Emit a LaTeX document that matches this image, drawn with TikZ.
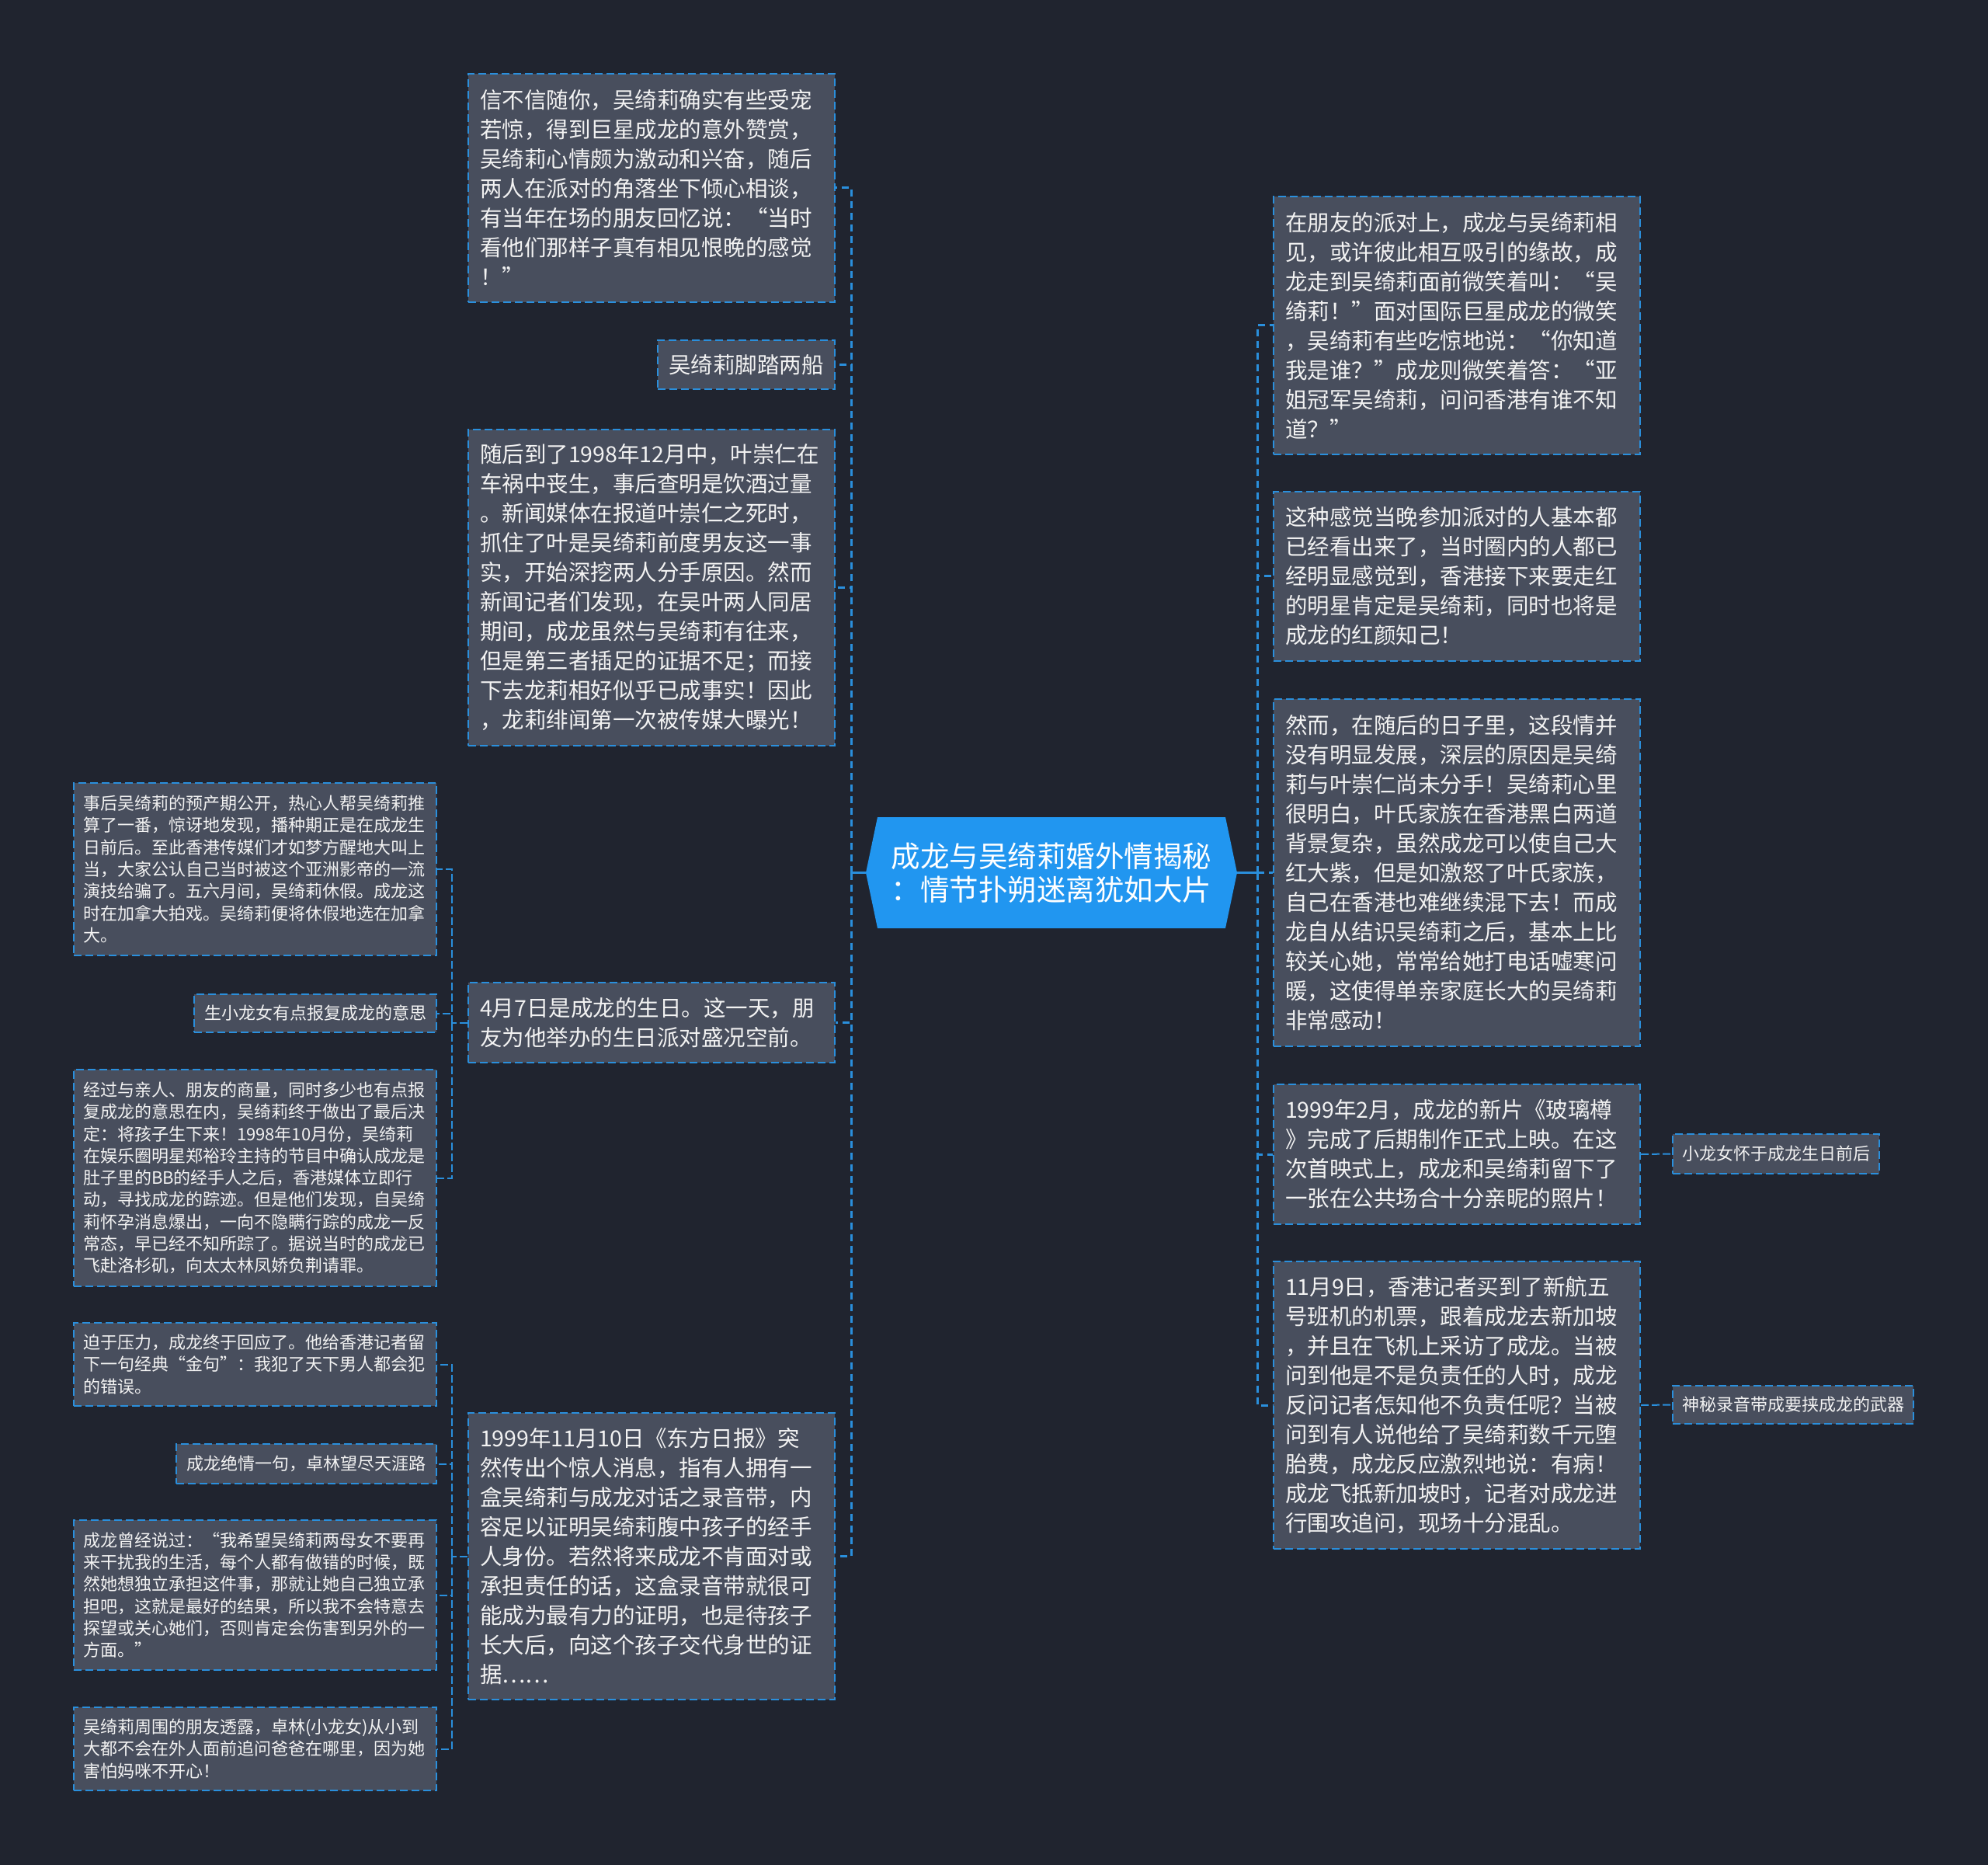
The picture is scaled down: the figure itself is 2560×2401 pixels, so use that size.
\documentclass[tikz,border=0pt]{standalone}
\usepackage{fontspec}
\setmainfont{Noto Sans CJK SC}
\definecolor{bgc}{HTML}{20242F}
\definecolor{nodefill}{HTML}{484E5D}
\definecolor{bord}{HTML}{2A8FDC}
\definecolor{rootfill}{HTML}{2196F0}
\definecolor{txt}{HTML}{F2F2F2}
\begin{document}
\begin{tikzpicture}[x=0.5pt,y=-0.5pt,
 box/.style={draw=bord, fill=nodefill, line width=1pt, dash pattern=on 5pt off 2.5pt, text=txt, inner ysep=0pt},
 big/.style={box, font=\fontsize{14.25pt}{19pt}\selectfont, align=left, text width=221pt, inner xsep=7.5pt},
 bigone/.style={box, font=\fontsize{14.25pt}{19pt}\selectfont, inner xsep=0pt},
 small/.style={box, font=\fontsize{11pt}{14.15pt}\selectfont, align=left, text width=221.5pt, inner xsep=6pt},
 smallone/.style={box, font=\fontsize{11pt}{14.15pt}\selectfont, inner xsep=0pt},
 trunk/.style={draw=bord, line width=1.5pt, dash pattern=on 4.5pt off 3pt},
 sub/.style={draw=bord, line width=1pt, dash pattern=on 5pt off 2pt},
 stub/.style={draw=bord, line width=1.5pt},
 rootnode/.style={text=white, font=\fontsize{18.75pt}{21.5pt}\selectfont, align=center, inner sep=0pt}
]
\useasboundingbox (0,0) rectangle (2560,2401);
\fill[bgc] (0,0) rectangle (2560,2401);

% root
\fill[rootfill] (1130,1052) -- (1115,1123.5) -- (1130,1195) -- (1578,1195) -- (1593,1123.5) -- (1578,1052) -- cycle;
\node[rootnode, minimum width=239pt, minimum height=71.5pt] (root) at (1354,1123.5) {成龙与吴绮莉婚外情揭秘\\：情节扑朔迷离犹如大片};

% left level 1
\node[big, minimum height=147pt] (L1) at (839,242) {信不信随你，吴绮莉确实有些受宠\\若惊，得到巨星成龙的意外赞赏，\\吴绮莉心情颇为激动和兴奋，随后\\两人在派对的角落坐下倾心相谈，\\有当年在场的朋友回忆说：“当时\\看他们那样子真有相见恨晚的感觉\\！”};
\node[bigone, minimum width=114pt, minimum height=31.5pt] (L2) at (961,469.5) {吴绮莉脚踏两船};
\node[big, minimum height=203.5pt] (L3) at (839,756.5) {随后到了1998年12月中，叶崇仁在\\车祸中丧生，事后查明是饮酒过量\\。新闻媒体在报道叶崇仁之死时，\\抓住了叶是吴绮莉前度男友这一事\\实，开始深挖两人分手原因。然而\\新闻记者们发现，在吴叶两人同居\\期间，成龙虽然与吴绮莉有往来，\\但是第三者插足的证据不足；而接\\下去龙莉相好似乎已成事实！因此\\，龙莉绯闻第一次被传媒大曝光！};
\node[big, minimum height=51.5pt] (L4) at (839,1316.5) {4月7日是成龙的生日。这一天，朋\\友为他举办的生日派对盛况空前。};
\node[big, minimum height=184.5pt] (L5) at (839,2003.5) {1999年11月10日《东方日报》突\\然传出个惊人消息，指有人拥有一\\盒吴绮莉与成龙对话之录音带，内\\容足以证明吴绮莉腹中孩子的经手\\人身份。若然将来成龙不肯面对或\\承担责任的话，这盒录音带就很可\\能成为最有力的证明，也是待孩子\\长大后，向这个孩子交代身世的证\\据……};

% right level 1
\node[big, minimum height=166pt] (R1) at (1876,419) {在朋友的派对上，成龙与吴绮莉相\\见，或许彼此相互吸引的缘故，成\\龙走到吴绮莉面前微笑着叫：“吴\\绮莉！”面对国际巨星成龙的微笑\\，吴绮莉有些吃惊地说：“你知道\\我是谁？”成龙则微笑着答：“亚\\姐冠军吴绮莉，问问香港有谁不知\\道？”};
\node[big, minimum height=109pt] (R2) at (1876,742) {这种感觉当晚参加派对的人基本都\\已经看出来了，当时圈内的人都已\\经明显感觉到，香港接下来要走红\\的明星肯定是吴绮莉，同时也将是\\成龙的红颜知己！};
\node[big, minimum height=223.5pt] (R3) at (1876,1123.5) {然而，在随后的日子里，这段情并\\没有明显发展，深层的原因是吴绮\\莉与叶崇仁尚未分手！吴绮莉心里\\很明白，叶氏家族在香港黑白两道\\背景复杂，虽然成龙可以使自己大\\红大紫，但是如激怒了叶氏家族，\\自己在香港也难继续混下去！而成\\龙自从结识吴绮莉之后，基本上比\\较关心她，常常给她打电话嘘寒问\\暖，这使得单亲家庭长大的吴绮莉\\非常感动！};
\node[big, minimum height=90pt] (R4) at (1876,1486) {1999年2月，成龙的新片《玻璃樽\\》完成了后期制作正式上映。在这\\次首映式上，成龙和吴绮莉留下了\\一张在公共场合十分亲昵的照片！};
\node[big, minimum height=185pt] (R5) at (1876,1809) {11月9日，香港记者买到了新航五\\号班机的机票，跟着成龙去新加坡\\，并且在飞机上采访了成龙。当被\\问到他是不是负责任的人时，成龙\\反问记者怎知他不负责任呢？当被\\问到有人说他给了吴绮莉数千元堕\\胎费，成龙反应激烈地说：有病！\\成龙飞抵新加坡时，记者对成龙进\\行围攻追问，现场十分混乱。};

% right level 2
\node[smallone, minimum width=133pt, minimum height=25.5pt] (C4) at (2287,1485.5) {小龙女怀于成龙生日前后};
\node[smallone, minimum width=155pt, minimum height=24.5pt] (C5) at (2309,1808.5) {神秘录音带成要挟成龙的武器};

% left level 2
\node[small, minimum height=111pt] (LL1) at (328.5,1119) {事后吴绮莉的预产期公开，热心人帮吴绮莉推\\算了一番，惊讶地发现，播种期正是在成龙生\\日前后。至此香港传媒们才如梦方醒地大叫上\\当，大家公认自己当时被这个亚洲影帝的一流\\演技给骗了。五六月间，吴绮莉休假。成龙这\\时在加拿大拍戏。吴绮莉便将休假地选在加拿\\大。};
\node[smallone, minimum width=156pt, minimum height=24.5pt] (LL2) at (406,1304.5) {生小龙女有点报复成龙的意思};
\node[small, minimum height=139.5pt] (LL3) at (328.5,1516.5) {经过与亲人、朋友的商量，同时多少也有点报\\复成龙的意思在内，吴绮莉终于做出了最后决\\定：将孩子生下来！1998年10月份，吴绮莉\\在娱乐圈明星郑裕玲主持的节目中确认成龙是\\肚子里的BB的经手人之后，香港媒体立即行\\动，寻找成龙的踪迹。但是他们发现，自吴绮\\莉怀孕消息爆出，一向不隐瞒行踪的成龙一反\\常态，早已经不知所踪了。据说当时的成龙已\\飞赴洛杉矶，向太太林凤娇负荆请罪。};
\node[small, minimum height=53.5pt] (LL4) at (328.5,1756.5) {迫于压力，成龙终于回应了。他给香港记者留\\下一句经典“金句”：我犯了天下男人都会犯\\的错误。};
\node[smallone, minimum width=167.5pt, minimum height=25.5pt] (LL5) at (394.5,1884.5) {成龙绝情一句，卓林望尽天涯路};
\node[small, minimum height=96.5pt] (LL6) at (328.5,2053.5) {成龙曾经说过：“我希望吴绮莉两母女不要再\\来干扰我的生活，每个人都有做错的时候，既\\然她想独立承担这件事，那就让她自己独立承\\担吧，这就是最好的结果，所以我不会特意去\\探望或关心她们，否则肯定会伤害到另外的一\\方面。”};
\node[small, minimum height=53.5pt] (LL7) at (328.5,2251.5) {吴绮莉周围的朋友透露，卓林(小龙女)从小到\\大都不会在外人面前追问爸爸在哪里，因为她\\害怕妈咪不开心！};

% junction points
\coordinate (lt) at (1096,1123.5);
\coordinate (rt) at (1619,1123.5);
\coordinate (l4t) at (582,1316.5);
\coordinate (l5t) at (582,2003.5);

% connectors
\draw[stub] (root.west) -- (lt);
\foreach \n in {L1,L2,L3,L4,L5} \draw[trunk] (lt) |- (\n.east);
\draw[stub] (root.east) -- (rt);
\foreach \n in {R1,R2,R3,R4,R5} \draw[trunk] (rt) |- (\n.west);
\draw[sub] (L4.west) -- (l4t);
\foreach \n in {LL1,LL2,LL3} \draw[sub] (l4t) |- (\n.east);
\draw[sub] (L5.west) -- (l5t);
\foreach \n in {LL4,LL5,LL6,LL7} \draw[sub] (l5t) |- (\n.east);
\draw[sub] (R4.east) -- (C4.west);
\draw[sub] (R5.east) -- (C5.west);
\end{tikzpicture}
\end{document}
